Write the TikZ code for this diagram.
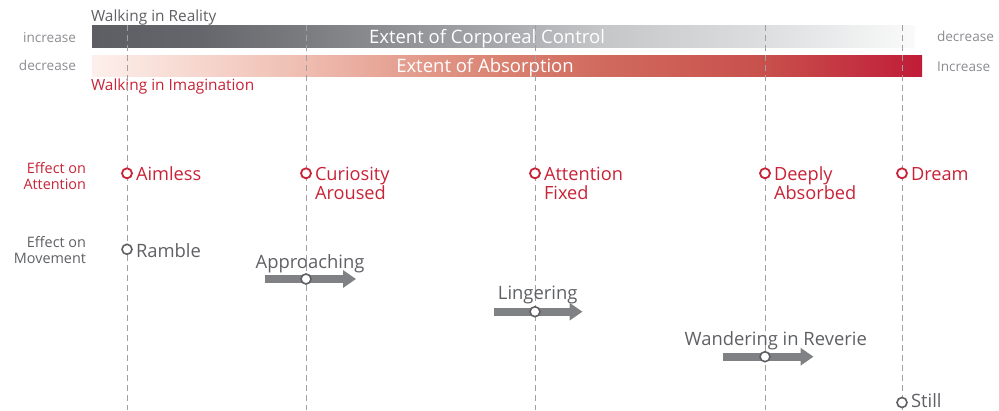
\documentclass[tikz,border=0pt]{standalone}
\usepackage{fontspec}
\setmainfont{Open Sans}
\usetikzlibrary{arrows.meta}
\definecolor{redtxt}{RGB}{200,35,55}
\definecolor{graytxt}{RGB}{95,96,100}
\definecolor{lighttxt}{RGB}{140,141,145}
\definecolor{dashc}{RGB}{160,160,163}
\definecolor{arrowc}{RGB}{128,129,132}
\pgfdeclarehorizontalshading{corpshade}{100bp}{
  rgb(0bp)=(0.361,0.369,0.388);
  rgb(25bp)=(0.361,0.369,0.388);
  rgb(31.5bp)=(0.392,0.400,0.420);
  rgb(37.9bp)=(0.478,0.486,0.502);
  rgb(49.6bp)=(0.647,0.655,0.667);
  rgb(55.9bp)=(0.769,0.776,0.784);
  rgb(65.9bp)=(0.863,0.871,0.875);
  rgb(75bp)=(0.980,0.980,0.980);
  rgb(100bp)=(0.980,0.980,0.980)}
\pgfdeclarehorizontalshading{absshade}{100bp}{
  rgb(0bp)=(0.992,0.941,0.925);
  rgb(25bp)=(0.992,0.941,0.925);
  rgb(37.5bp)=(0.937,0.745,0.698);
  rgb(49.6bp)=(0.855,0.510,0.443);
  rgb(55.6bp)=(0.816,0.416,0.369);
  rgb(65.5bp)=(0.784,0.314,0.298);
  rgb(75bp)=(0.753,0.110,0.220);
  rgb(100bp)=(0.753,0.110,0.220)}
\begin{document}
\begin{tikzpicture}[x=1pt,y=-1pt,
  txt/.style={inner sep=0pt,outer sep=0pt},
  bartitle/.style={txt,text=white,font=\fontsize{18.5}{20}\selectfont},
  sidelbl/.style={txt,text=lighttxt,font=\fontsize{13.6}{17}\selectfont},
  headlbl/.style={txt,font=\fontsize{15.4}{17}\selectfont},
  rowlbl/.style={txt,font=\fontsize{14.4}{15.5}\selectfont,align=right},
  attlbl/.style={txt,text=redtxt,font=\fontsize{18.2}{18.6}\selectfont,align=left},
  movlbl/.style={txt,text=graytxt,font=\fontsize{18.4}{20}\selectfont},
  attdot/.style={circle,draw=redtxt,fill=white,line width=1.8pt,minimum size=10pt,inner sep=0pt},
  movdot/.style={circle,draw=graytxt,fill=white,line width=1.6pt,minimum size=10pt,inner sep=0pt},
  guide/.style={draw=dashc,line width=0.9pt,dash pattern=on 6pt off 4pt},
  movarrow/.style={draw=arrowc,line width=8pt,-{Triangle[length=13pt,width=17pt]}}
]
\useasboundingbox (0,0) rectangle (999,410);
% bars
\shade[shading=corpshade] (92,25) rectangle (915,47);
\shade[shading=absshade] (92,55) rectangle (922,76);
\node[bartitle,anchor=base] (corp) at (487,43.5) {Extent of Corporeal Control};
\node[bartitle,anchor=base] (abs) at (485,72.5) {Extent of Absorption};
\node[headlbl,text=graytxt,anchor=base west] (real) at (91,21) {Walking in Reality};
\node[headlbl,text=redtxt,anchor=base west] (imag) at (91,90.7) {Walking in Imagination};
\node[sidelbl,anchor=base east] (inc1) at (76,42.3) {increase};
\node[sidelbl,anchor=base east] (dec1) at (76,70) {decrease};
\node[sidelbl,anchor=base west] (dec2) at (937,41) {decrease};
\node[sidelbl,anchor=base west] (inc2) at (937,71) {Increase};
% guides
\foreach \i/\x in {1/127,2/306,3/535,4/765,5/902}{
  \coordinate (top\i) at (\x,25);
  \coordinate (bot\i) at (\x,410);
  \draw[guide] (top\i) -- (bot\i);
}
% row labels (base = last line)
\node[rowlbl,text=redtxt,anchor=base east] (effatt) at (86,189.3) {Effect on\\Attention};
\node[rowlbl,text=graytxt,anchor=base east] (effmov) at (86,263.3) {Effect on\\Movement};
% attention
\node[attdot] (a1) at (127,173.3) {};
\node[attdot] (a2) at (306,173.3) {};
\node[attdot] (a3) at (535,173.3) {};
\node[attdot] (a4) at (765,173.3) {};
\node[attdot] (a5) at (902,173.3) {};
\node[attlbl,anchor=base west] (la1) at (136,180.7) {Aimless};
\node[attlbl,anchor=base west] (la2) at (315,199.3) {Curiosity\\Aroused};
\node[attlbl,anchor=base west] (la3) at (544,199.3) {Attention\\Fixed};
\node[attlbl,anchor=base west] (la4) at (774,199.3) {Deeply\\Absorbed};
\node[attlbl,anchor=base west] (la5) at (911,180.7) {Dream};
% movement arrows
\coordinate (s2) at (265,279);   \coordinate (e2) at (356,279);
\coordinate (s3) at (494,311.7); \coordinate (e3) at (582.5,311.7);
\coordinate (s4) at (723,356.7); \coordinate (e4) at (813.5,356.7);
\draw[movarrow] (s2) -- (e2);
\draw[movarrow] (s3) -- (e3);
\draw[movarrow] (s4) -- (e4);
\node[movdot] (m1) at (127,249.3) {};
\node[movdot] (m2) at (306,279) {};
\node[movdot] (m3) at (535,311.7) {};
\node[movdot] (m4) at (765,356.7) {};
\node[movdot] (m5) at (902,402.5) {};
\node[movlbl,anchor=base west] (lm1) at (136,257.3) {Ramble};
\node[movlbl,anchor=base] (lm2) at (310,268.3) {Approaching};
\node[movlbl,anchor=base] (lm3) at (537.7,299.3) {Lingering};
\node[movlbl,anchor=base] (lm4) at (775.7,345) {Wandering in Reverie};
\node[movlbl,anchor=base west] (lm5) at (911,407) {Still};
\end{tikzpicture}
\end{document}
